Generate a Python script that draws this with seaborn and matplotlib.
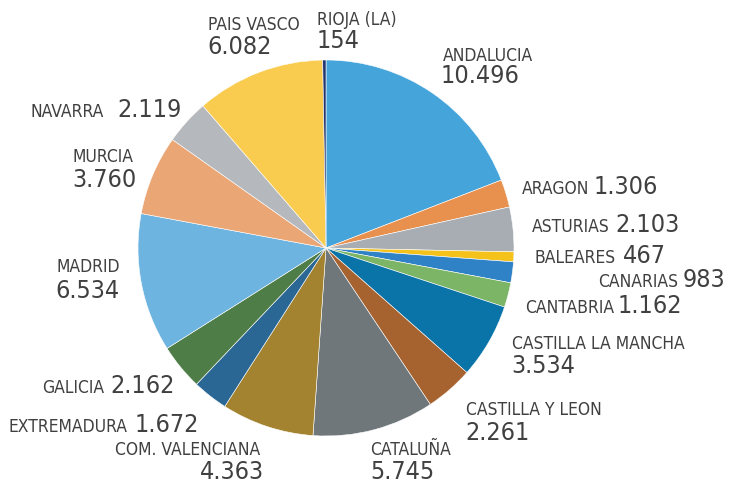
import matplotlib
matplotlib.use("Agg")
import matplotlib.pyplot as plt
import seaborn as sns

sns.set_theme(style="white")
plt.rcParams["font.family"] = ["DejaVu Sans"]

regions = [
    "ANDALUCIA", "ARAGON", "ASTURIAS", "BALEARES", "CANARIAS", "CANTABRIA",
    "CASTILLA LA MANCHA", "CASTILLA Y LEON", "CATALUÑA", "COM. VALENCIANA",
    "EXTREMADURA", "GALICIA", "MADRID", "MURCIA", "NAVARRA", "PAIS VASCO",
    "RIOJA (LA)",
]
values = [10496, 1306, 2103, 467, 983, 1162, 3534, 2261, 5745, 4363,
          1672, 2162, 6534, 3760, 2119, 6082, 154]
colors = [
    "#45a5db", "#e8914f", "#a7adb3", "#f5c21b", "#2f82c6", "#7bb565",
    "#0a74a9", "#a6622f", "#6f777a", "#a3832f", "#2a6794", "#4f7d48",
    "#6db4e0", "#eaa674", "#b5b8bc", "#f9cc50", "#22356e",
]

# label layout in pixels: name x, name baseline y, value x, value baseline y
label_pos = [
    (443, 61, 441, 83), (522, 194, 594, 194), (532, 232, 615, 232),
    (534, 263, 623, 263), (598, 287, 683, 287), (525, 313, 618, 313),
    (512, 349, 511, 373), (466, 415, 465, 440), (370, 455, 370, 479),
    (115, 455, 200, 479), (9, 432, 135, 432), (42, 393, 110, 393),
    (56, 272, 55, 298), (73, 162, 72, 187), (31, 117, 117, 117),
    (208, 30, 207, 54), (317, 25, 317, 48),
]

W, H = 730, 484
fig = plt.figure(figsize=(W / 100, H / 100), dpi=100)
ax = fig.add_axes([0, 0, 1, 1])
ax.set_xlim(0, W)
ax.set_ylim(0, H)
ax.set_aspect("equal")
ax.axis("off")

ax.pie(values, colors=colors, startangle=90, counterclock=False,
       center=(326, H - 248), radius=188,
       wedgeprops=dict(edgecolor="white", linewidth=0.4))
ax.set_xlim(0, W)
ax.set_ylim(0, H)

for name, val, (nx, ny, vx, vy) in zip(regions, values, label_pos):
    txt = f"{val:,}".replace(",", ".")
    ax.text(nx, H - ny, name, fontsize=12.5, fontstretch="condensed",
            color="#404040", ha="left", va="baseline")
    ax.text(vx, H - vy, txt, fontsize=18, fontstretch="condensed",
            color="#404040", ha="left", va="baseline")

fig.savefig("out.png", dpi=100, facecolor="white")
